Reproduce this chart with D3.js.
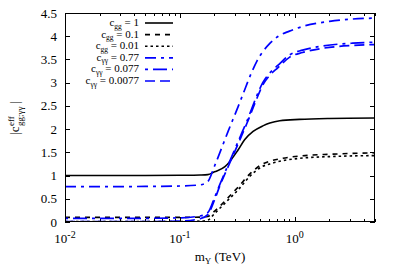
<!DOCTYPE html>
<html>
<head>
<meta charset="UTF-8">
<style>
  body { margin: 0; background: #fff; }
  text { font-family: "Liberation Serif", "Times New Roman", Times, serif; fill: #000; }
</style>
</head>
<body>
<svg id="chart" width="399" height="279" font-family="Liberation Serif, Times New Roman, serif"></svg>
<script src="https://d3js.org/d3.v7.min.js"></script>
<script>
// ---- data (m in TeV, value |c_eff|)
const mSolid = [0.01, 0.05, 0.1, 0.15, 0.175, 0.2, 0.247, 0.321, 0.366, 0.434, 0.528, 0.607, 0.741, 1.1, 2.0, 5.0];
const cgg1 = [1.0, 1.0, 1.005, 1.012, 1.02, 1.08, 1.19, 1.55, 1.77, 1.95, 2.07, 2.13, 2.18, 2.21, 2.23, 2.24];

const mBlack = [0.01, 0.1, 0.15, 0.175, 0.202, 0.262, 0.321, 0.405, 0.517, 0.607, 0.78, 1.1, 2.1, 5.0];
const cgg01 = [0.1, 0.1, 0.105, 0.12, 0.24, 0.52, 0.75, 1.03, 1.24, 1.31, 1.37, 1.42, 1.46, 1.49];
const cgg001 = [0.01, 0.012, 0.02, 0.04, 0.19, 0.47, 0.69, 0.98, 1.19, 1.25, 1.32, 1.37, 1.41, 1.43];

const mBlue1 = [0.01, 0.05, 0.1, 0.15, 0.175, 0.2, 0.263, 0.321, 0.353, 0.423, 0.47, 0.61, 0.72, 0.9, 1.17, 2.01, 3.19, 5.0];
const caa077 = [0.76, 0.765, 0.775, 0.8, 0.87, 1.2, 1.95, 2.48, 2.74, 3.23, 3.47, 3.85, 4.0, 4.11, 4.21, 4.32, 4.37, 4.39];

const mBlue2 = [0.01, 0.05, 0.1, 0.15, 0.175, 0.2, 0.223, 0.272, 0.333, 0.383, 0.468, 0.527, 0.607, 0.712, 0.905, 1.17, 1.75, 3.19, 5.0];
const caa0077 = [0.08, 0.08, 0.09, 0.13, 0.2, 0.52, 0.81, 1.31, 1.82, 2.17, 2.72, 3.0, 3.21, 3.37, 3.6, 3.7, 3.79, 3.85, 3.87];
const caa00077 = [0.01, 0.01, 0.02, 0.07, 0.16, 0.47, 0.78, 1.27, 1.77, 2.12, 2.66, 2.95, 3.16, 3.32, 3.55, 3.65, 3.74, 3.80, 3.82];

const yTicks = [0, 0.5, 1, 1.5, 2, 2.5, 3, 3.5, 4, 4.5];
const xDecades = [0.01, 0.1, 1];
const xExp = ["-2", "-1", "0"];

const series = [
  { name: "gg", val: "1", m: mSolid, v: cgg1, color: "#000", dash: null, w: 1.6 },
  { name: "gg", val: "0.1", m: mBlack, v: cgg01, color: "#000", dash: "5,5", w: 1.6 },
  { name: "gg", val: "0.01", m: mBlack, v: cgg001, color: "#000", dash: "2.5,3", w: 1.6 },
  { name: "γγ", val: "0.77", m: mBlue1, v: caa077, color: "#0000ff", dash: "11,5,3,5", w: 1.7 },
  { name: "γγ", val: "0.077", m: mBlue2, v: caa0077, color: "#0000ff", dash: "3,5,14,5", w: 1.7 },
  { name: "γγ", val: "0.0077", m: mBlue2, v: caa00077, color: "#0000ff", dash: "10,5", w: 1.7 }
];

// ---- layout
const L = 65, R = 375, T = 13, B = 222;
const svg = d3.select("#chart");

const x = d3.scaleLog().domain([0.01, 5]).range([L, R]);
const y = d3.scaleLinear().domain([0, 4.5]).range([B, T]);

svg.append("clipPath").attr("id", "clip")
  .append("rect").attr("x", L).attr("y", T).attr("width", R - L).attr("height", B - T);

// ticks (inward, mirrored)
const tk = svg.append("g").attr("stroke", "#000").attr("stroke-width", 1);
yTicks.forEach(t => {
  const yy = Math.round(y(t)) + 0.5;
  tk.append("line").attr("x1", L).attr("x2", L + 5).attr("y1", yy).attr("y2", yy);
  tk.append("line").attr("x1", R).attr("x2", R - 5).attr("y1", yy).attr("y2", yy);
});
const minors = [];
[0.01, 0.1, 1].forEach(d => { for (let k = 1; k < 10; k++) if (d * k <= 5) minors.push(d * k); });
minors.forEach(t => {
  const xx = Math.round(x(t)) + 0.5;
  const len = xDecades.includes(t) ? 5 : 3;
  tk.append("line").attr("x1", xx).attr("x2", xx).attr("y1", B).attr("y2", B - len);
  tk.append("line").attr("x1", xx).attr("x2", xx).attr("y1", T).attr("y2", T + len);
});

// curves
const line = d3.line()
  .x(d => x(d[0]))
  .y(d => y(d[1]))
  .curve(d3.curveMonotoneX);

const curves = svg.append("g").attr("clip-path", "url(#clip)");
series.forEach(s => {
  const pts = s.m.map((m, i) => [m, s.v[i]]);
  curves.append("path")
    .attr("d", line(pts))
    .attr("fill", "none")
    .attr("stroke", s.color)
    .attr("stroke-width", s.w)
    .attr("stroke-dasharray", s.dash);
});

// frame
svg.append("rect").attr("x", L + 0.5).attr("y", T + 0.5)
  .attr("width", R - L - 1).attr("height", B - T - 1)
  .attr("fill", "none").attr("stroke", "#000").attr("stroke-width", 1);

// y tick labels
yTicks.forEach(t => {
  svg.append("text").attr("x", 57).attr("y", y(t) + 4.5)
    .attr("text-anchor", "end").attr("font-size", 13).text(d3.format("")(t));
});

// x tick labels 10^n
xDecades.forEach((d, i) => {
  const t = svg.append("text").attr("x", x(d)).attr("y", 243)
    .attr("text-anchor", "middle").attr("font-size", 13);
  t.append("tspan").text("10");
  t.append("tspan").attr("dy", -5).attr("font-size", 10).text(xExp[i]);
});

// x axis title
const xt = svg.append("text").attr("x", 220).attr("y", 261)
  .attr("text-anchor", "middle").attr("font-size", 13);
xt.append("tspan").text("m");
xt.append("tspan").attr("dy", 3).attr("font-size", 9).text("Y");
xt.append("tspan").attr("dy", -3).text(" (TeV)");

// y axis title (rotated)
const yg = svg.append("g");
const bar1 = yg.append("text").attr("font-size", 13).attr("x", 0).attr("y", 0).text("|c");
const w1 = bar1.node().getComputedTextLength();
const sup = yg.append("text").attr("font-size", 9).attr("x", w1 + 0.5).attr("y", -5).text("eff");
const sub = yg.append("text").attr("font-size", 9).attr("x", w1 + 0.5).attr("y", 4).text("gg;γγ");
const w2 = Math.max(sup.node().getComputedTextLength(), sub.node().getComputedTextLength());
yg.append("text").attr("font-size", 13).attr("x", w1 + w2 + 3).attr("y", 0).text("|");
const totalW = w1 + w2 + 6;
yg.attr("transform", `translate(19,${118 + totalW / 2}) rotate(-90)`);

// legend
const legY0 = 23, legDY = 11.6;
series.forEach((s, i) => {
  const yy = legY0 + i * legDY;
  const t = svg.append("text").attr("x", 139).attr("y", yy + 3)
    .attr("text-anchor", "end").attr("font-size", 11);
  t.append("tspan").text("c");
  t.append("tspan").attr("dy", 2.5).attr("font-size", 7.5).text(s.name);
  t.append("tspan").attr("dy", -2.5).text(" = " + s.val);
  svg.append("line").attr("x1", 145).attr("x2", 173).attr("y1", yy).attr("y2", yy)
    .attr("stroke", s.color).attr("stroke-width", s.w)
    .attr("stroke-dasharray", s.dash);
});
</script>
</body>
</html>
